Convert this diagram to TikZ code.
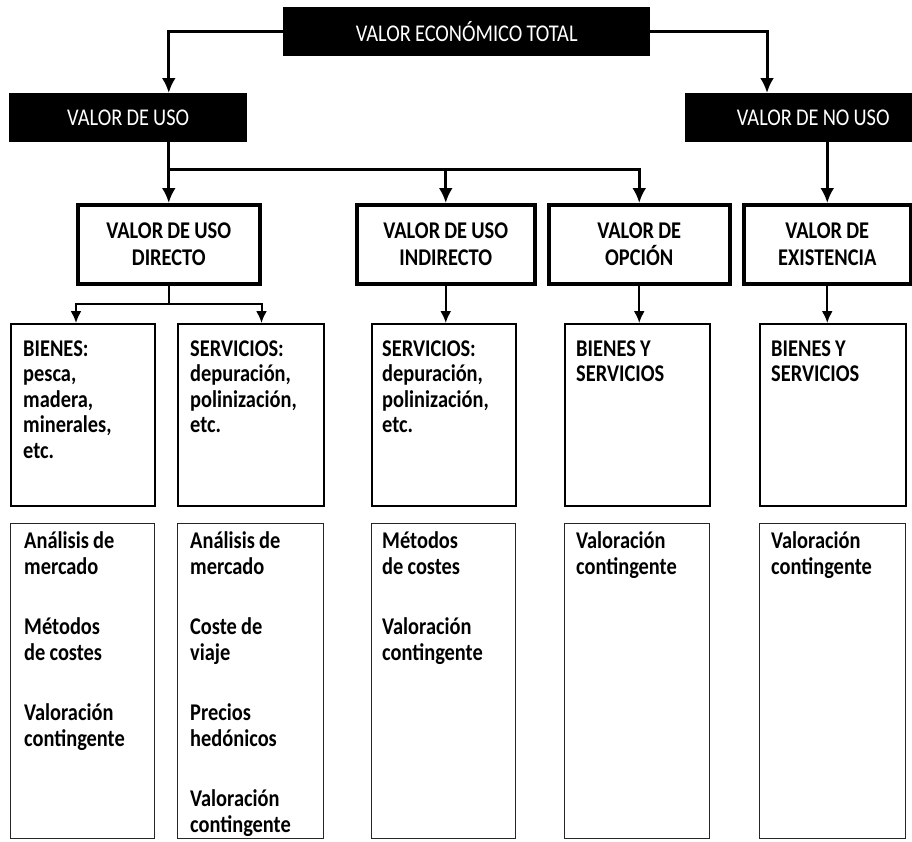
\documentclass[tikz,border=0pt]{standalone}
\usepackage{fontspec}
\setmainfont[FakeStretch=0.85,WordSpace=0.9]{Carlito}
\usepackage{tikz}
\usetikzlibrary{arrows,arrows.meta,positioning,calc}
\newcommand{\tstrut}{\rule{0pt}{20pt}}
\tikzset{
  negro/.style={fill=black,text=white,inner sep=0pt,minimum height=49pt,anchor=north west,font=\fontsize{24}{27}\selectfont},
  cabeza/.style={draw,line width=3.5pt,inner sep=0pt,minimum height=79pt,anchor=north west,align=center,font=\bfseries\fontsize{24}{26.5}\selectfont},
  caja/.style={draw,line width=2pt,inner sep=0pt,minimum height=182pt,anchor=north west},
  metodo/.style={draw=black!85,line width=1.2pt,inner sep=0pt,minimum height=315pt,anchor=north west},
  texto/.style={inner sep=0pt,align=left,font=\bfseries\fontsize{24}{25.5}\selectfont},
  textom/.style={texto,font=\bfseries\fontsize{24}{26.5}\selectfont},
  gruesa/.style={line width=3pt,-{Latex[length=15pt,width=14pt]}},
  fina/.style={line width=2pt,-{Latex[length=12pt,width=11pt]}}
}
\begin{document}
\begin{tikzpicture}[x=1pt,y=-1pt]
\useasboundingbox (0,0) rectangle (912,841);

% fila superior
\node[negro,minimum width=367pt] (total) at (283,7) {VALOR ECONÓMICO TOTAL};
\node[negro,minimum width=238pt] (uso) at (9,93) {VALOR DE USO};
\node[negro,minimum width=256pt] (nouso) at (685,93) {VALOR DE NO USO};

% tipos de valor
\node[cabeza,minimum width=182pt] (directo) at (76,203) {VALOR DE USO\\DIRECTO};
\node[cabeza,minimum width=178pt] (indirecto) at (355,203) {VALOR DE USO\\INDIRECTO};
\node[cabeza,minimum width=181pt] (opcion) at (547,203) {VALOR DE\\OPCIÓN};
\node[cabeza,minimum width=167pt] (existencia) at (742,203) {VALOR DE\\EXISTENCIA};

% bienes y servicios
\node[caja,minimum width=144pt] (bienes) at (10,323) {};
\node[caja,minimum width=146pt] (servicios) at (177,323) {};
\node[caja,minimum width=144pt] (iserv) at (371,323) {};
\node[caja,minimum width=145pt] (obys) at (564,323) {};
\node[caja,minimum width=146pt] (ebys) at (759,323) {};
\node[texto,below right=13pt and 13pt of bienes.north west] (tbienes) {\tstrut BIENES:\\pesca,\\madera,\\minerales,\\etc.};
\node[texto,below right=13pt and 13pt of servicios.north west] (tservicios) {\tstrut SERVICIOS:\\depuración,\\polinización,\\etc.};
\node[texto,below right=13pt and 11pt of iserv.north west] (tiserv) {\tstrut SERVICIOS:\\depuración,\\polinización,\\etc.};
\node[texto,below right=13pt and 12pt of obys.north west] (tobys) {\tstrut BIENES Y\\SERVICIOS};
\node[texto,below right=13pt and 12pt of ebys.north west] (tebys) {\tstrut BIENES Y\\SERVICIOS};

% metodos de valoracion
\node[metodo,minimum width=144pt] (mbienes) at (10,523) {};
\node[metodo,minimum width=146pt] (mservicios) at (177,523) {};
\node[metodo,minimum width=144pt] (miserv) at (371,523) {};
\node[metodo,minimum width=145pt] (mobys) at (564,523) {};
\node[metodo,minimum width=146pt] (mebys) at (759,523) {};
\node[textom,below right=5pt and 14pt of mbienes.north west] (tmbienes) {\tstrut Análisis de\\mercado\\[33pt]Métodos\\de costes\\[33pt]Valoración\\contingente};
\node[textom,below right=5pt and 13pt of mservicios.north west] (tmservicios) {\tstrut Análisis de\\mercado\\[33pt]Coste de\\viaje\\[33pt]Precios\\hedónicos\\[33pt]Valoración\\contingente};
\node[textom,below right=5pt and 11pt of miserv.north west] (tmiserv) {\tstrut Métodos\\de costes\\[33pt]Valoración\\contingente};
\node[textom,below right=5pt and 12pt of mobys.north west] (tmobys) {\tstrut Valoración\\contingente};
\node[textom,below right=5pt and 12pt of mebys.north west] (tmebys) {\tstrut Valoración\\contingente};

% conectores
\coordinate (split) at ($(directo.north)!0.55!(directo.north |- uso.south)$);
\coordinate (noin) at ([xshift=82pt]nouso.north west);
\coordinate (dsplit) at ($(directo.south)!0.5!(directo.south |- bienes.north)$);
\draw[gruesa] (total.west) -| (uso.north -| directo.north);
\draw[gruesa] (total.east) -| (noin);
\draw[gruesa] (uso.south -| directo.north) -- (directo.north);
\draw[gruesa] (split) -| (opcion.north);
\draw[gruesa] (split -| indirecto.north) -- (indirecto.north);
\draw[gruesa] (nouso.south -| existencia.north) -- (existencia.north);
\draw[fina] (directo.south) -- (dsplit) -| (bienes.north -| directo.west);
\draw[fina] (dsplit) -| (servicios.north -| directo.east);
\draw[fina] (indirecto.south) -- (indirecto.south |- iserv.north);
\draw[fina] (opcion.south) -- (opcion.south |- obys.north);
\draw[fina] (existencia.south) -- (existencia.south |- ebys.north);
\end{tikzpicture}
\end{document}
